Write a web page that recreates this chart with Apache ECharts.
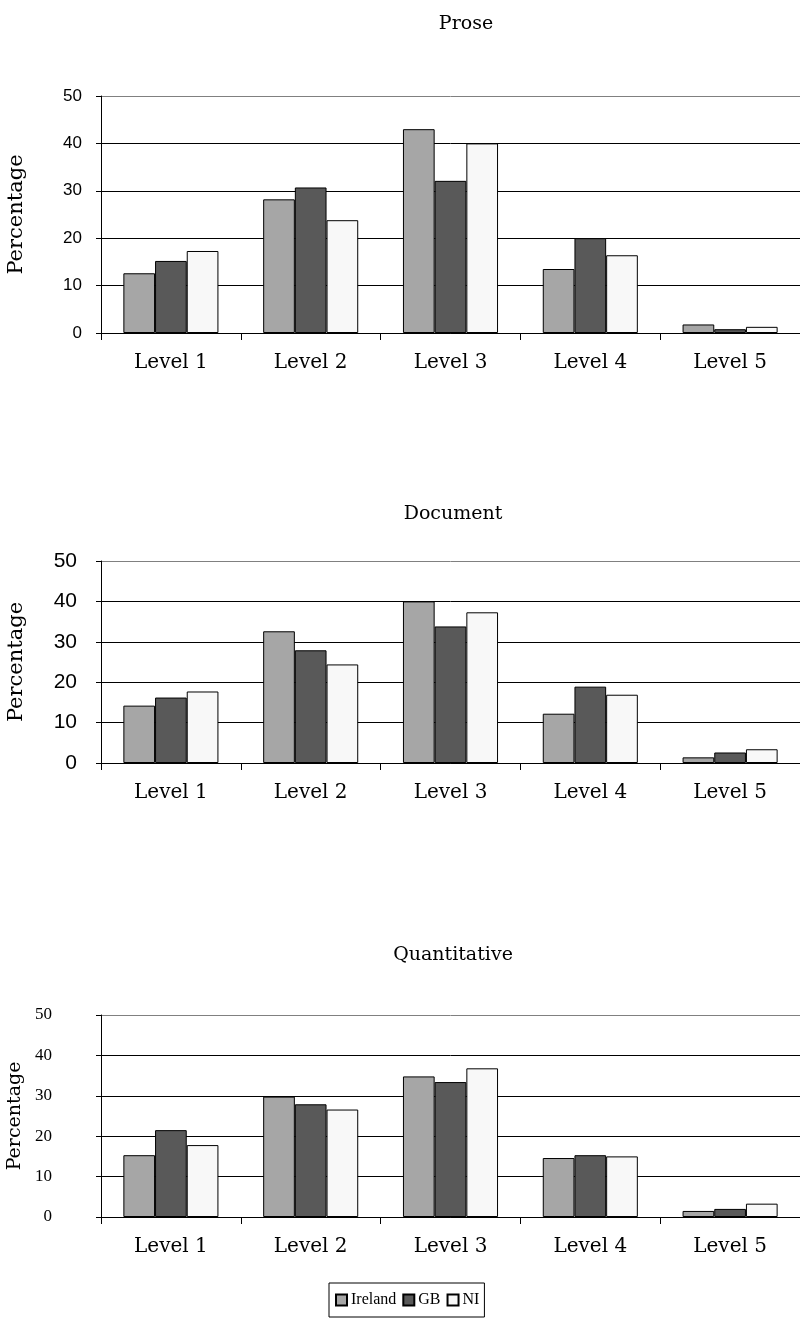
<!DOCTYPE html>
<html>
<head>
<meta charset="utf-8">
<script src="https://cdn.jsdelivr.net/npm/echarts@6/dist/echarts.min.js"></script>
<style>html,body{margin:0;padding:0;background:#fff}#c{width:800px;height:1322px}</style>
</head>
<body>
<div id="c"></div>
<script>
const categories = ['Level 1', 'Level 2', 'Level 3', 'Level 4', 'Level 5'];
const seriesNames = ['Ireland', 'GB', 'NI'];
const panelTitles = ['Prose', 'Document', 'Quantitative'];
const yTicks = [0, 10, 20, 30, 40, 50];

const proseIreland = [12.6, 28.2, 43.0, 13.5, 1.8];
const proseGB = [15.2, 30.7, 32.1, 20.0, 0.8];
const proseNI = [17.3, 23.8, 40.0, 16.4, 1.3];

const documentIreland = [14.2, 32.6, 40.0, 12.2, 1.4];
const documentGB = [16.2, 27.9, 33.8, 18.9, 2.6];
const documentNI = [17.7, 24.4, 37.3, 16.9, 3.4];

const quantIreland = [15.3, 29.8, 34.8, 14.6, 1.5];
const quantGB = [21.5, 27.9, 33.4, 15.3, 2.0];
const quantNI = [17.8, 26.6, 36.8, 15.0, 3.3];

const panelData = [
  [proseIreland, proseGB, proseNI],
  [documentIreland, documentGB, documentNI],
  [quantIreland, quantGB, quantNI]
];

const colors = ['#a6a6a6', '#595959', '#f8f8f8'];
const serif = '"DejaVu Serif", serif';
const sans = '"Liberation Sans", Arial, sans-serif';
const times = '"Liberation Serif", serif';

const grids = [
  {left: 101, right: 0, top: 96, height: 237, outerBoundsMode: 'none', containLabel: false},
  {left: 101, right: 0, top: 561, height: 202, outerBoundsMode: 'none', containLabel: false},
  {left: 101, right: 0, top: 1015, height: 202, outerBoundsMode: 'none', containLabel: false}
];
const titleTops = [10, 500, 941];
const titleLefts = [461, 448, 448];
const yLabelStyle = [
  {fontFamily: sans, fontSize: 17, color: '#000', margin: 19},
  {fontFamily: sans, fontSize: 21, color: '#000', margin: 24},
  {fontFamily: times, fontSize: 17, color: '#000', margin: 49}
];
const nameSizes = [21, 21, 19];

const option = {
  animation: false,
  backgroundColor: '#fff',
  title: panelTitles.map((t, i) => ({
    text: t, left: titleLefts[i], top: titleTops[i], textAlign: 'center',
    textStyle: {fontFamily: serif, fontSize: 19, fontWeight: 'normal', color: '#000'}
  })),
  grid: grids,
  legend: {
    data: seriesNames,
    left: 329, top: 1283,
    padding: [9, 5, 9, 6],
    itemGap: 6,
    itemWidth: 11, itemHeight: 11,
    borderColor: '#000', borderWidth: 1, borderRadius: 0,
    icon: 'rect',
    textStyle: {fontFamily: times, fontSize: 16, color: '#000', padding: [0, 0, 0, -1]}
  },
  xAxis: grids.map((g, i) => ({
    type: 'category', gridIndex: i, data: categories,
    axisLine: {lineStyle: {color: '#000', width: 1}},
    axisTick: {show: true, length: 7, lineStyle: {color: '#000'}},
    axisLabel: {fontFamily: serif, fontSize: 20, color: '#000', margin: 20}
  })),
  yAxis: grids.map((g, i) => ({
    type: 'value', gridIndex: i, min: 0, max: 50, interval: 10,
    name: 'Percentage', nameLocation: 'middle', nameRotate: 90, nameGap: 74,
    nameTextStyle: {fontFamily: serif, fontSize: nameSizes[i], color: '#000'},
    axisLine: {show: true, lineStyle: {color: '#000', width: 1}},
    axisTick: {show: true, length: 5, lineStyle: {color: '#000'}},
    axisLabel: yLabelStyle[i],
    splitLine: {show: true, lineStyle: {color: ['#000', '#000', '#000', '#000', '#000', '#808080'], width: 1}}
  })),
  series: []
};

panelData.forEach((sets, p) => {
  sets.forEach((vals, s) => {
    option.series.push({
      type: 'bar', name: seriesNames[s], xAxisIndex: p, yAxisIndex: p,
      data: vals,
      barGap: '0%', barCategoryGap: '32%',
      itemStyle: {color: colors[s], borderColor: '#000', borderWidth: 1}
    });
  });
});

const chart = echarts.init(document.getElementById('c'), null, {renderer: 'canvas'});
chart.setOption(option);
</script>
</body>
</html>
